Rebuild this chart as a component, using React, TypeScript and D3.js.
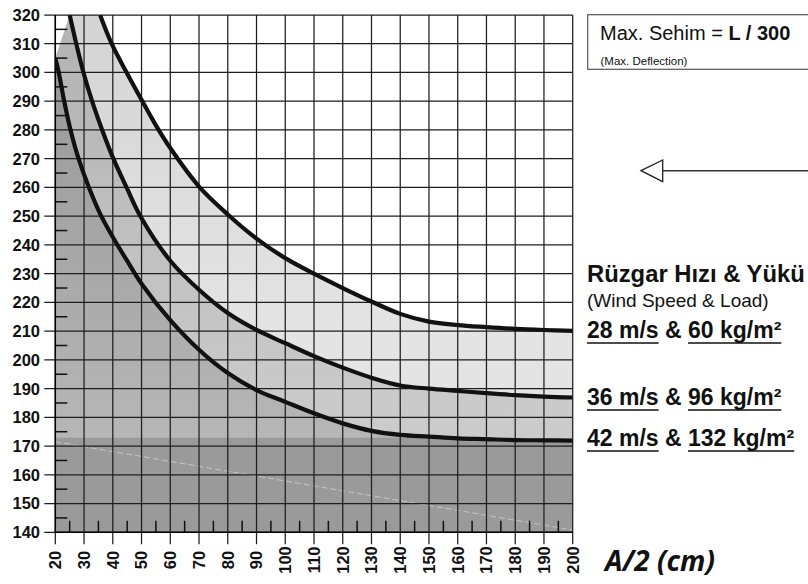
import React, { useEffect, useRef } from "react";
import * as d3 from "d3";

const W = 808;
const H = 584;

const xTicks: number[] = [20, 30, 40, 50, 60, 70, 80, 90, 100, 110, 120, 130, 140, 150, 160, 170, 180, 190, 200];
const yTicks: number[] = [140, 150, 160, 170, 180, 190, 200, 210, 220, 230, 240, 250, 260, 270, 280, 290, 300, 310, 320];
const xMinor: number[] = [25, 35, 45, 55, 65, 75, 85, 95, 105, 115, 125, 135, 145, 155, 165, 175, 185, 195];
const yMinor: number[] = [145, 155, 165, 175, 185, 195, 205, 215, 225, 235, 245, 255, 265, 275, 285, 295, 305, 315];

// 28 m/s & 60 kg/m²
const curve28: [number, number][] = [
  [35.6, 320], [39.6, 310], [44.8, 300], [50, 290.5], [55, 281.6], [60, 273.7],
  [70, 260.3], [80, 250.6], [90, 242.2], [100, 235.4], [110, 230], [120, 225], [130, 220.3],
  [140, 216], [150, 213.3], [160, 212.1], [170, 211.4], [180, 210.8], [190, 210.4], [200, 210.1],
];
// 36 m/s & 96 kg/m²
const curve36: [number, number][] = [
  [25, 320], [27.3, 310], [29.8, 300], [32.8, 290], [36.3, 280], [40.2, 270], [44.8, 260],
  [49.6, 250], [60, 234.5], [70, 224.4], [80, 216.3], [90, 210.4], [100, 205.8], [110, 201.3],
  [120, 197.3], [130, 193.8], [140, 191.1], [150, 190], [160, 189.2], [170, 188.4],
  [180, 187.7], [190, 187.2], [200, 186.9],
];
// 42 m/s & 132 kg/m²
const curve42: [number, number][] = [
  [20, 305], [21.2, 300], [23.1, 290], [25.3, 280], [28.1, 270], [31.7, 260], [36, 250],
  [41, 241], [44.8, 234.8], [50, 226.5], [60, 213.8], [70, 203.5], [80, 195.4], [90, 189.5],
  [100, 185.4], [110, 181.4], [120, 177.9], [130, 175.3], [140, 173.9], [150, 173.3],
  [160, 172.7], [170, 172.4], [180, 172.1], [190, 172], [200, 171.9],
];
const baseLevel = 172.9;
const dashedRef: [number, number][] = [[20, 171.5], [200, 140.8]];

const legendTitle = "Rüzgar Hızı & Yükü";
const legendSub = "(Wind Speed & Load)";
const legendSpeeds: string[] = ["28 m/s", "36 m/s", "42 m/s"];
const legendLoads: string[] = ["60 kg/m²", "96 kg/m²", "132 kg/m²"];
const xTitle = "A/2 (cm)";

export default function App() {
  const ref = useRef<SVGSVGElement | null>(null);

  useEffect(() => {
    const svg = d3.select(ref.current);
    svg.selectAll("*").remove();

    const x = d3.scaleLinear().domain([20, 200]).range([55.3, 572.7]);
    const y = d3.scaleLinear().domain([140, 320]).range([532.3, 15]);

    const defs = svg.append("defs");
    defs.append("clipPath").attr("id", "plotclip").append("rect")
      .attr("x", x(20)).attr("y", y(320)).attr("width", x(200) - x(20)).attr("height", y(140) - y(320));

    const mkGrad = (id: string, c1: string, c2: string, v1: number, v2: number) => {
      const g = defs.append("linearGradient").attr("id", id)
        .attr("gradientUnits", "userSpaceOnUse")
        .attr("x1", 0).attr("x2", 0).attr("y1", y(v1)).attr("y2", y(v2));
      g.append("stop").attr("offset", 0).attr("stop-color", c1);
      g.append("stop").attr("offset", 1).attr("stop-color", c2);
    };
    mkGrad("gA", "#d4d4d4", "#e4e4e4", 320, 210);
    mkGrad("gB", "#b4b4b4", "#cbcbcb", 310, 180);
    mkGrad("gC", "#989898", "#b6b6b6", 305, 174);

    const line = d3.line<[number, number]>()
      .x((d) => x(d[0])).y((d) => y(d[1]))
      .curve(d3.curveCatmullRom.alpha(0.5));

    const band = (a: [number, number][], b: [number, number][]) => {
      const p1 = line(a) as string;
      const p2 = (line(b.slice().reverse()) as string).replace(/^M/, "L");
      return p1 + p2 + "Z";
    };

    const plot = svg.append("g").attr("clip-path", "url(#plotclip)");

    const lowPath = (line(curve42) as string) + `L${x(200)},${y(140)}L${x(20)},${y(140)}Z`;
    plot.append("path").attr("d", lowPath).attr("fill", "url(#gC)");
    plot.append("rect")
      .attr("x", x(20)).attr("y", y(baseLevel))
      .attr("width", x(200) - x(20)).attr("height", y(140) - y(baseLevel))
      .attr("fill", "#9a9a9a");
    plot.append("path").attr("d", band(curve28, curve36)).attr("fill", "url(#gA)");
    plot.append("path").attr("d", band(curve36, curve42)).attr("fill", "url(#gB)");

    plot.append("line")
      .attr("x1", x(dashedRef[0][0])).attr("y1", y(dashedRef[0][1]))
      .attr("x2", x(dashedRef[1][0])).attr("y2", y(dashedRef[1][1]))
      .attr("stroke", "#c6c6c6").attr("stroke-width", 1).attr("stroke-dasharray", "6 3");

    const grid = svg.append("g").attr("stroke", "#1e1e1e").attr("stroke-width", 1.25);
    grid.selectAll("line.v").data(xTicks).join("line")
      .attr("x1", (d) => x(d)).attr("x2", (d) => x(d))
      .attr("y1", y(320)).attr("y2", y(140) + 12);
    grid.selectAll("line.h").data(yTicks).join("line")
      .attr("class", "h")
      .attr("x1", x(20) - 11).attr("x2", x(200))
      .attr("y1", (d) => y(d)).attr("y2", (d) => y(d));

    const minor = svg.append("g").attr("stroke", "#111").attr("stroke-width", 1.5);
    minor.selectAll("line.mx").data(xMinor).join("line")
      .attr("x1", (d) => x(d)).attr("x2", (d) => x(d))
      .attr("y1", y(140)).attr("y2", y(140) - 11.5);
    minor.selectAll("line.my").data(yMinor).join("line")
      .attr("class", "my")
      .attr("x1", x(20)).attr("x2", x(20) + 12)
      .attr("y1", (d) => y(d)).attr("y2", (d) => y(d));

    svg.append("line").attr("x1", x(20)).attr("x2", x(20)).attr("y1", y(320)).attr("y2", y(140))
      .attr("stroke", "#000").attr("stroke-width", 1.5);
    svg.append("line").attr("x1", x(20)).attr("x2", x(200)).attr("y1", y(140)).attr("y2", y(140))
      .attr("stroke", "#000").attr("stroke-width", 1.5);

    const cg = svg.append("g").attr("clip-path", "url(#plotclip)");
    [curve28, curve36, curve42].forEach((c) => {
      cg.append("path").attr("d", line(c) as string)
        .attr("fill", "none").attr("stroke", "#111").attr("stroke-width", 4.2)
        .attr("stroke-linejoin", "round");
    });

    const font = "'Liberation Sans', Arial, sans-serif";

    svg.append("g").selectAll("text").data(yTicks).join("text")
      .attr("x", 40).attr("y", (d) => y(d) + 5.9)
      .attr("text-anchor", "end")
      .attr("font-family", font).attr("font-weight", "bold").attr("font-size", 16.5)
      .attr("fill", "#111")
      .text((d) => String(d));

    svg.append("g").selectAll("text").data(xTicks).join("text")
      .attr("transform", (d) => `translate(${x(d) + 5.9},560) rotate(-90)`)
      .attr("text-anchor", "middle")
      .attr("font-family", font).attr("font-weight", "bold").attr("font-size", 16.5)
      .attr("fill", "#111")
      .text((d) => String(d));

    svg.append("text").attr("x", 605).attr("y", 571)
      .attr("font-family", "'Open Sans', sans-serif").attr("font-style", "italic")
      .attr("font-weight", "bold").attr("font-size", 28).attr("fill", "#111")
      .text(xTitle);

    svg.append("rect").attr("x", 587.7).attr("y", 14.7).attr("width", 240).attr("height", 54.6)
      .attr("fill", "#fff").attr("stroke", "#555").attr("stroke-width", 1.2);
    const t1 = svg.append("text").attr("x", 600).attr("y", 39.5)
      .attr("font-family", font).attr("font-size", 20).attr("fill", "#111");
    t1.append("tspan").text("Max. Sehim = ");
    t1.append("tspan").attr("font-weight", "bold").text("L / 300");
    svg.append("text").attr("x", 600.5).attr("y", 64.5)
      .attr("font-family", font).attr("font-size", 11.5).attr("fill", "#111")
      .text("(Max. Deflection)");

    svg.append("line").attr("x1", 662.7).attr("x2", 810).attr("y1", 170.7).attr("y2", 170.7)
      .attr("stroke", "#333").attr("stroke-width", 1.4);
    svg.append("path").attr("d", "M641,170.7L662.7,160L662.7,181.7Z")
      .attr("fill", "#fff").attr("stroke", "#222").attr("stroke-width", 1.3);

    svg.append("text").attr("x", 587).attr("y", 281.5)
      .attr("font-family", font).attr("font-weight", "bold").attr("font-size", 23.8).attr("fill", "#111")
      .text(legendTitle);
    svg.append("text").attr("x", 587).attr("y", 307)
      .attr("font-family", font).attr("font-size", 19).attr("fill", "#111")
      .text(legendSub);

    const rowY = [338, 405, 446];
    legendSpeeds.forEach((sp, i) => {
      const t = svg.append("text").attr("x", 587).attr("y", rowY[i])
        .attr("font-family", font).attr("font-weight", "bold").attr("font-size", 23).attr("fill", "#111");
      const a = t.append("tspan").text(sp);
      t.append("tspan").text(" & ");
      const b = t.append("tspan").text(legendLoads[i]);
      [a, b].forEach((ts) => {
        const node = ts.node() as SVGTextContentElement;
        const sx = node.getStartPositionOfChar(0).x;
        const w = node.getComputedTextLength();
        svg.append("line").attr("x1", sx).attr("x2", sx + w)
          .attr("y1", rowY[i] + 5).attr("y2", rowY[i] + 5)
          .attr("stroke", "#111").attr("stroke-width", 1.6);
      });
    });
  }, []);

  return (
    <svg
      ref={ref}
      width={W}
      height={H}
      viewBox={`0 0 ${W} ${H}`}
      style={{ position: "absolute", left: 0, top: 0, background: "#fff" }}
    />
  );
}
